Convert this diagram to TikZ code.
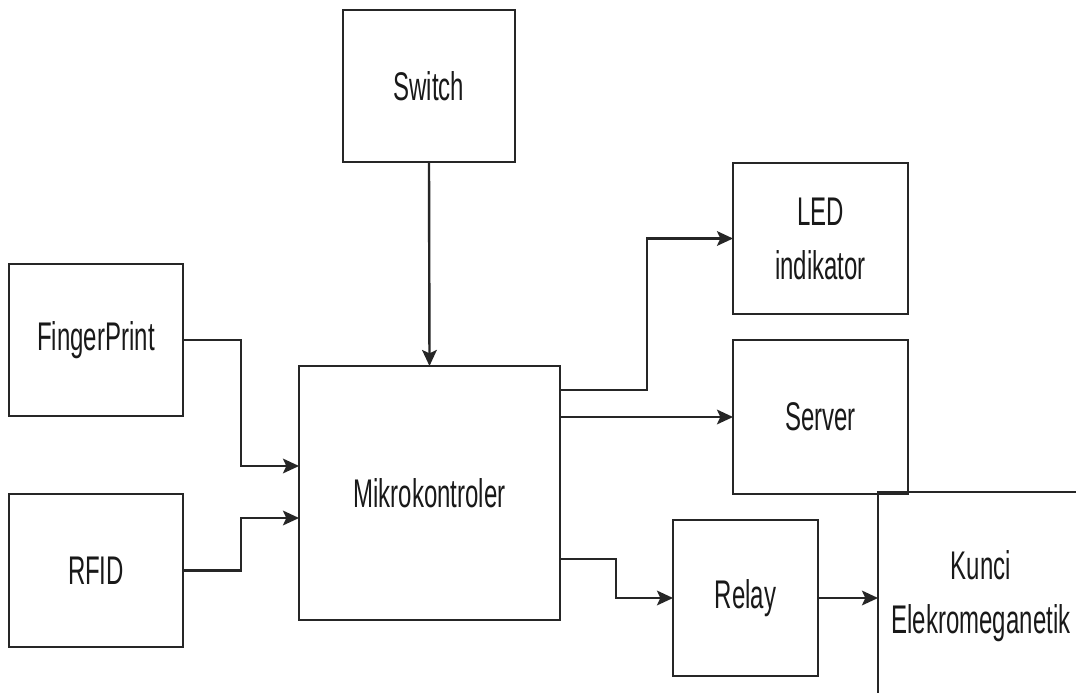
\documentclass[tikz,border=0pt]{standalone}
\usepackage{fontspec}
\setmainfont{Liberation Sans}[FakeStretch=0.6]
\usetikzlibrary{arrows.meta,calc}
\begin{document}
\begin{tikzpicture}[x=0.75pt,y=-0.75pt,
  blk/.style={draw=black!85,line width=1.9pt,inner sep=0pt,outer sep=0pt,align=center,
    font=\fontsize{30pt}{40.5pt}\selectfont,text=black!90},
  arr/.style={draw=black!85,line width=1.8pt,-{Stealth[length=12pt,width=11pt,inset=2.5pt]}}]
\useasboundingbox (0,0) rectangle (1076,693);
\clip (0,0) rectangle (1076,693);
\fill[white] (0,0) rectangle (1076,693);
\node[blk,minimum width=129pt,minimum height=114pt] (sw) at (429,86) {Switch};
\node[blk,minimum width=130.5pt,minimum height=114pt] (fp) at (96,340) {FingerPrint};
\node[blk,minimum width=130.5pt,minimum height=114.75pt] (rf) at (96,570.5) {RFID};
\node[blk,minimum width=195.75pt,minimum height=190.5pt] (mk) at (429.5,493) {Mikrokontroler};
\node[blk,minimum width=131.25pt,minimum height=113.25pt] (led) at (820.5,238.5) {LED\\indikator};
\node[blk,minimum width=131.25pt,minimum height=115.5pt] (srv) at (820.5,417) {Server};
\node[blk,minimum width=108.75pt,minimum height=117pt] (rl) at (745.5,598) {Relay};
\node[blk,line width=1.3pt,minimum width=154.5pt,minimum height=156pt] (kc) at (981,596) {Kunci\\Elekromeganetik};
\draw[arr] (sw.south) -- (mk.north);
\draw[arr] (fp.east) -- ++(58,0) |- (mk.west |- 0,466);
\draw[arr] (rf.east) -- ++(58,0) |- (mk.west |- 0,518);
\draw[arr] (mk.east |- 0,390) -- (647,390) |- (led.west);
\draw[arr] (mk.east |- 0,417) -- (srv.west);
\draw[arr] (mk.east |- 0,559) -- (616,559) |- (rl.west);
\draw[arr] (rl.east) -- (kc.west |- rl.east);
\end{tikzpicture}
\end{document}
